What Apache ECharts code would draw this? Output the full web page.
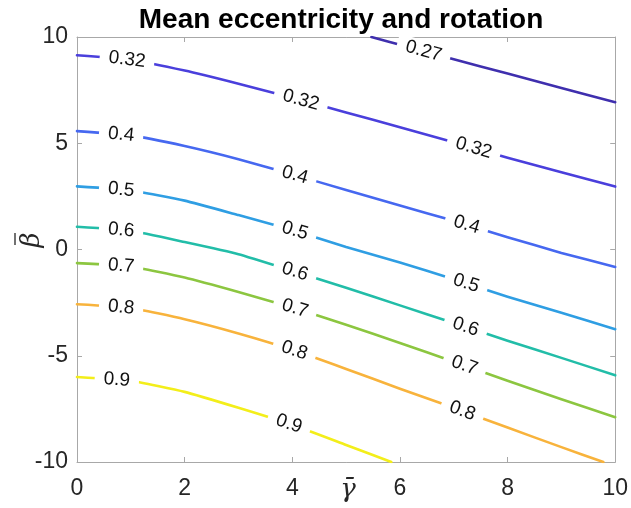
<!DOCTYPE html>
<html><head><meta charset="utf-8">
<script src="https://cdn.jsdelivr.net/npm/echarts/dist/echarts.min.js"></script>
<style>html,body{margin:0;padding:0;background:#fff}#c{width:631px;height:508px}</style>
</head><body><div id="c"></div>
<script>
// Contour levels and colours
const levelNames = ['0.27', '0.32', '0.4', '0.5', '0.6', '0.7', '0.8', '0.9'];
const levelColors = ['#3f2fae', '#4a3fdc', '#4668f0', '#2f9ee3', '#22bda8', '#8cc640', '#f8b33c', '#f3ee1a'];

// Contour lines: [gamma, beta] points
const line027 = [[5.47, 10], [6, 9.64], [7, 8.95], [8, 8.28], [9, 7.6], [10, 6.93]];
const line032 = [[0, 9.14], [1, 8.92], [2, 8.42], [3, 7.8], [4, 7.14], [5, 6.45], [6, 5.75], [7, 5.05], [8, 4.32], [9, 3.63], [10, 2.96]];
const line04  = [[0, 5.57], [1, 5.37], [2, 4.87], [3, 4.25], [4, 3.54], [5, 2.8], [6, 2.07], [7, 1.35], [8, 0.58], [9, -0.16], [10, -0.82]];
const line05  = [[0, 2.97], [1, 2.78], [2, 2.3], [3, 1.62], [4, 0.92], [5, 0.12], [6, -0.61], [7, -1.4], [8, -2.22], [9, -2.98], [10, -3.75]];
const line06  = [[0, 1.07], [1, 0.88], [2, 0.35], [3, -0.22], [4, -1.0], [5, -1.8], [6, -2.63], [7, -3.46], [8, -4.29], [9, -5.1], [10, -5.92]];
const line07  = [[0, -0.64], [1, -0.8], [2, -1.32], [3, -2.0], [4, -2.73], [5, -3.54], [6, -4.4], [7, -5.28], [8, -6.18], [9, -7.05], [10, -7.89]];
const line08  = [[0, -2.58], [1, -2.75], [2, -3.28], [3, -3.95], [4, -4.72], [5, -5.62], [6, -6.55], [7, -7.45], [8, -8.38], [9, -9.3], [9.78, -10]];
const line09  = [[0, -6.0], [1, -6.18], [2, -6.7], [3, -7.45], [4, -8.25], [5, -9.2], [5.84, -10]];

// Gamma positions of the inline contour labels
const labels027 = [6.44];
const labels032 = [0.93, 4.16, 7.37];
const labels04  = [0.82, 4.05, 7.24];
const labels05  = [0.82, 4.05, 7.23];
const labels06  = [0.82, 4.05, 7.22];
const labels07  = [0.82, 4.05, 7.2];
const labels08  = [0.82, 4.04, 7.16];
const labels09  = [0.74, 3.94];

// Axis ticks
const xTicks = { min: 0, max: 10, interval: 2 };
const yTicks = { min: -10, max: 10, interval: 5 };

const lines = [line027, line032, line04, line05, line06, line07, line08, line09];
const labelSets = [labels027, labels032, labels04, labels05, labels06, labels07, labels08, labels09];

function interp(pts, x) {
  for (let i = 0; i < pts.length - 1; i++) {
    const a = pts[i], b = pts[i + 1];
    if (x >= a[0] && x <= b[0]) {
      const t = (x - a[0]) / (b[0] - a[0]);
      return a[1] + t * (b[1] - a[1]);
    }
  }
  return pts[pts.length - 1][1];
}

const AXC = '#a8a8a8';
const TXC = '#262626';
const FONT = 'Liberation Sans, Arial, sans-serif';
function axisCommon(showLabel, margin) {
  return {
    axisLine: { show: true, onZero: false, lineStyle: { color: AXC, width: 1 } },
    axisTick: { show: true, inside: true, length: 5, lineStyle: { color: AXC } },
    splitLine: { show: false },
    axisLabel: { show: showLabel, fontSize: 23, color: TXC, fontFamily: FONT, margin: margin || 8 }
  };
}

const chart = echarts.init(document.getElementById('c'), null, { renderer: 'canvas' });

function staticGraphics() {
  return [
    { type: 'text', x: 341, y: 20, z: 100, style: { text: 'Mean eccentricity and rotation', fontSize: 28, fontWeight: 'bold', fill: '#000', fontFamily: FONT, align: 'center', verticalAlign: 'middle' } },
    { type: 'text', x: 348, y: 490, z: 100, style: { text: 'γ\u0304', fontSize: 26, fontStyle: 'italic', fill: TXC, fontFamily: 'DejaVu Serif, serif', align: 'center', verticalAlign: 'middle' } },
    { type: 'group', x: 30, y: 240, rotation: Math.PI / 2, z: 100, children: [
      { type: 'text', x: 0, y: 2, style: { text: 'β', fontSize: 26, fontStyle: 'italic', fill: TXC, fontFamily: 'DejaVu Serif, serif', align: 'center', verticalAlign: 'middle' } },
      { type: 'line', shape: { x1: -5, y1: -15, x2: 7, y2: -15 }, style: { stroke: TXC, lineWidth: 1.3 } }
    ] }
  ];
}

chart.setOption({
  animation: false,
  backgroundColor: '#fff',
  grid: { left: 77, top: 37, width: 539, height: 425, containLabel: false },
  xAxis: [
    Object.assign({ type: 'value', position: 'bottom' }, xTicks, axisCommon(true, 15)),
    Object.assign({ type: 'value', position: 'top' }, xTicks, axisCommon(false))
  ],
  yAxis: [
    Object.assign({ type: 'value', position: 'left' }, yTicks, axisCommon(true, 9)),
    Object.assign({ type: 'value', position: 'right' }, yTicks, axisCommon(false))
  ],
  graphic: staticGraphics(),
  series: lines.map((pts, i) => ({
    type: 'line', data: pts, showSymbol: false, smooth: 0.15, z: 2,
    lineStyle: { color: levelColors[i], width: 2.6, cap: 'round', join: 'round' }, silent: true, animation: false
  }))
});

// Inline contour labels, placed on the lines through the chart's own scales
const labelGraphics = [];
labelSets.forEach((xs, i) => {
  xs.forEach(x => {
    const x0 = Math.max(0, x - 0.3), x1 = x + 0.3;
    const p0 = chart.convertToPixel({ gridIndex: 0 }, [x0, interp(lines[i], x0)]);
    const p1 = chart.convertToPixel({ gridIndex: 0 }, [x1, interp(lines[i], x1)]);
    const pc = chart.convertToPixel({ gridIndex: 0 }, [x, interp(lines[i], x)]);
    const ang = Math.atan2(-(p1[1] - p0[1]), p1[0] - p0[0]);
    labelGraphics.push({
      type: 'text', x: pc[0], y: pc[1], rotation: ang, z: 50,
      style: {
        text: levelNames[i], fontSize: 19, fill: '#111', fontFamily: FONT,
        align: 'center', verticalAlign: 'middle', backgroundColor: '#fff', padding: [1, 9]
      }
    });
  });
});
chart.setOption({ graphic: staticGraphics().concat(labelGraphics) });
</script></body></html>
